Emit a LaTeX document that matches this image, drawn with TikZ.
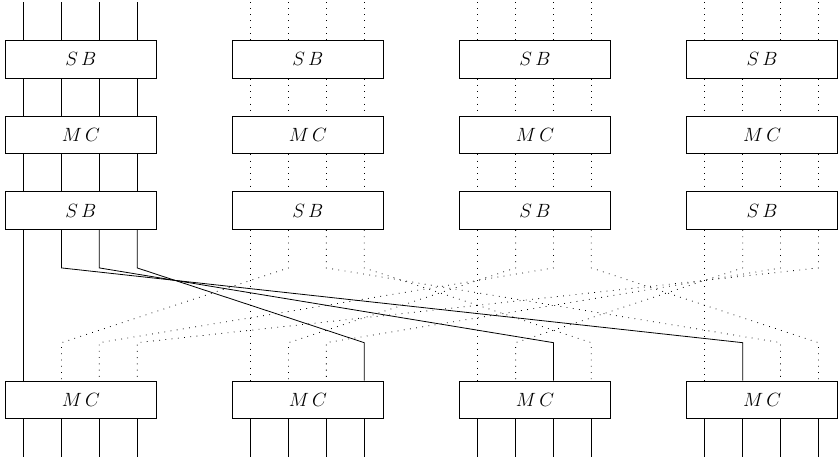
\documentclass[tikz,border=0pt]{standalone}
\usetikzlibrary{calc}
\begin{document}
\begin{tikzpicture}[
  blk/.style={draw, line width=0.7pt, minimum width=4cm, minimum height=1cm,
              inner sep=0pt, font=\Large, anchor=south west},
  wire/.style={line width=0.6pt},
  faint/.style={line width=0.6pt, dash pattern=on 0.6pt off 4.1pt},
]
\useasboundingbox (-0.124,-0.114) rectangle (22.018,12.079);

% four columns of blocks
\foreach \c in {0,...,3} {
  \node[blk] (sa\c) at (6*\c,10) {$S\,B$};
  \node[blk] (ma\c) at (6*\c,8)  {$M\,C$};
  \node[blk] (sb\c) at (6*\c,6)  {$S\,B$};
  \node[blk] (mb\c) at (6*\c,1)  {$M\,C$};
}

% vertical lanes: column 0 solid, the others dotted
\foreach \c/\st in {0/wire,1/faint,2/faint,3/faint} {
  \foreach \j in {0,...,3} {
    \draw[\st] ([xshift=\j cm+0.5cm]sa\c.north west) -- ++(0,1);
    \draw[\st] ([xshift=\j cm+0.5cm]sa\c.south west) -- ([xshift=\j cm+0.5cm]ma\c.north west);
    \draw[\st] ([xshift=\j cm+0.5cm]ma\c.south west) -- ([xshift=\j cm+0.5cm]sb\c.north west);
    \draw[wire] ([xshift=\j cm+0.5cm]mb\c.south west) -- ++(0,-1);
  }
  % lane 0 goes straight down
  \draw[\st] ([xshift=0.5cm]sb\c.south west) -- ([xshift=0.5cm]mb\c.north west);
}

% shuffle: lane j of column c moves to lane j of column (c-j) mod 4
\foreach \c/\st in {1/faint,2/faint,3/faint,0/wire} {
  \foreach \j in {1,2,3} {
    \pgfmathtruncatemacro\t{mod(\c-\j+4,4)}
    \draw[\st] ([xshift=\j cm+0.5cm]sb\c.south west) -- ++(0,-1)
      -- ([xshift=\j cm+0.5cm,yshift=1cm]mb\t.north west)
      -- ([xshift=\j cm+0.5cm]mb\t.north west);
  }
}
\end{tikzpicture}
\end{document}
